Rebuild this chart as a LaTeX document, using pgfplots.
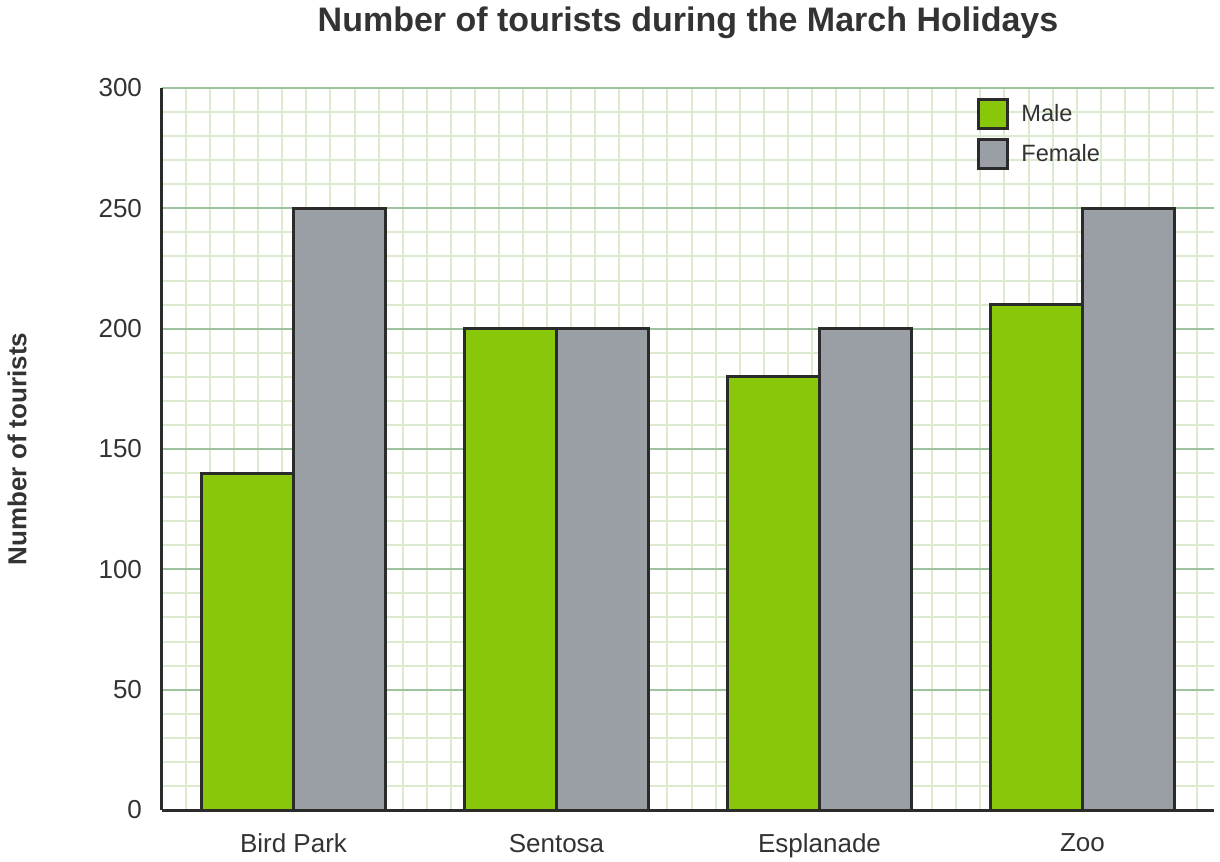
\documentclass[border=0pt]{standalone}
\usepackage{pgfplots}
\pgfplotsset{compat=1.18}
\usepackage{fontspec}
\setmainfont{Liberation Sans}
\definecolor{malec}{HTML}{88C70A}
\definecolor{femc}{HTML}{9A9EA5}
\definecolor{edgec}{HTML}{2B2B2B}
\definecolor{majg}{HTML}{9DC49D}
\definecolor{ming}{HTML}{DCEBD0}
\definecolor{txt}{HTML}{333333}
\begin{document}
\begin{tikzpicture}
\useasboundingbox (-81bp,-26bp) rectangle (529bp,405bp);
\begin{axis}[
  at={(0,0)}, anchor=south west,
  scale only axis, width=526bp, height=361bp,
  ybar, bar width=46bp,
  xmin=-0.5, xmax=3.5, ymin=0, ymax=300,
  enlargelimits=false,
  xtick={0,1,2,3}, xticklabels={Bird Park,Sentosa,Esplanade,Zoo},
  ytick={0,50,...,300}, minor y tick num=4,
  minor xtick={-0.5,-0.408479,...,3.5},
  major tick length=0pt, minor tick length=0pt,
  xmajorgrids=false, xminorgrids=true, ymajorgrids=true, yminorgrids=true,
  major grid style={majg, line width=1bp},
  minor grid style={ming, line width=1bp},
  axis x line*=bottom, axis y line*=left,
  axis line style={edgec, line width=1.5bp, -},
  /pgf/number format/assume math mode=true,
  tick label style={font=\fontsize{13bp}{15bp}\selectfont, text=txt},
  yticklabel style={xshift=-6.5bp},
  xticklabel style={yshift=-8.5bp},
  title={Number of tourists during the March Holidays},
  title style={at={(0.5,1.0734)}, anchor=center, font=\bfseries\fontsize{17bp}{20bp}\selectfont, text=txt},
  ylabel={Number of tourists},
  ylabel style={at={(-0.1378,0.5)}, anchor=center, font=\bfseries\fontsize{13bp}{15bp}\selectfont, text=txt},
  legend style={at={(0.7747,0.9861)}, anchor=north west, draw=none, fill=none, inner sep=0pt,
    font=\fontsize{11.8bp}{14bp}\selectfont, text=txt, row sep=4bp,
    nodes={inner xsep=6bp}},
  legend cell align=left,
  legend image code/.code={\draw[#1, line width=1.5bp] (0bp,-7.25bp) rectangle (14.5bp,7.25bp);},
]
\addplot[fill=malec, draw=edgec, line width=1.5bp, bar shift=-23bp] coordinates {(0,140) (1,200) (2,180) (3,210)};
\addplot[fill=femc, draw=edgec, line width=1.5bp, bar shift=23bp] coordinates {(0,250) (1,200) (2,200) (3,250)};
\legend{Male,Female}
\end{axis}
\end{tikzpicture}
\end{document}
